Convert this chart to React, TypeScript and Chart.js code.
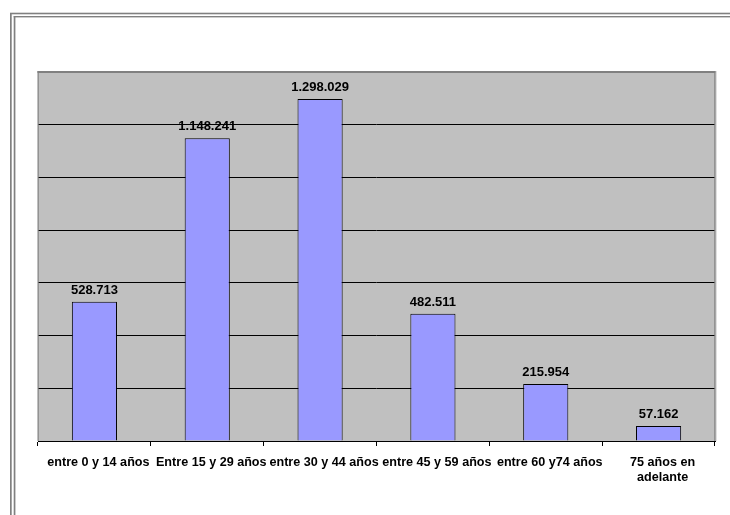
import React, { useEffect, useRef } from "react";
import { Chart, registerables } from "chart.js";

Chart.register(...registerables);

// Age groups (x-axis categories)
const categories: (string | string[])[] = [
  "entre 0 y 14 años",
  "Entre 15 y 29 años",
  "entre 30 y 44 años",
  "entre 45 y 59 años",
  "entre 60 y74 años",
  ["75 años en", "adelante"],
];

// Population per age group
const population: number[] = [528713, 1148241, 1298029, 482511, 215954, 57162];

// Value axis range
const yMax = 1400000;
const yStep = 200000;

const W = 730;
const H = 515;
const FONT = "'Liberation Sans', Arial, sans-serif";

const fmt = (n: number) => n.toString().replace(/\B(?=(\d{3})+(?!\d))/g, ".");

// Gray plot background, outer frame lines and plot border
const framePlugin = {
  id: "frame",
  beforeDraw(chart: any) {
    const { ctx, chartArea: a } = chart;
    ctx.save();
    ctx.fillStyle = "#ffffff";
    ctx.fillRect(0, 0, W, H);
    ctx.fillStyle = "#808080";
    // double frame: left and top
    ctx.fillRect(10, 13, 1.7, H - 13);
    ctx.fillRect(13.7, 16, 1.7, H - 16);
    ctx.fillRect(10, 12.7, W - 10, 1.6);
    ctx.fillRect(13.7, 16, W - 13.7, 1.4);
    // plot background
    ctx.fillStyle = "#c0c0c0";
    ctx.fillRect(a.left, a.top, a.right - a.left, a.bottom - a.top);
    ctx.restore();
  },
  beforeDatasetsDraw(chart: any) {
    const { ctx, chartArea: a } = chart;
    ctx.save();
    ctx.fillStyle = "#808080";
    ctx.fillRect(a.left - 0.5, a.top - 1, a.right - a.left + 1, 2);
    ctx.fillRect(a.left - 0.5, a.top - 1, 1.2, a.bottom - a.top + 1);
    ctx.fillRect(a.right - 0.7, a.top - 1, 1.5, a.bottom - a.top + 1);
    ctx.fillStyle = "#e0e0e0";
    ctx.fillRect(a.right + 0.8, a.top - 1, 1.2, a.bottom - a.top + 1);
    ctx.restore();
  },
};

// Value labels above each bar
const valueLabelPlugin = {
  id: "valueLabels",
  afterDatasetsDraw(chart: any) {
    const { ctx } = chart;
    const meta = chart.getDatasetMeta(0);
    ctx.save();
    ctx.font = `bold 13px ${FONT}`;
    ctx.fillStyle = "#000000";
    ctx.textAlign = "center";
    ctx.textBaseline = "alphabetic";
    meta.data.forEach((bar: any, i: number) => {
      ctx.fillText(fmt(population[i]), bar.x, bar.y - 8);
    });
    ctx.restore();
  },
};

export default function App() {
  const ref = useRef<HTMLCanvasElement | null>(null);

  useEffect(() => {
    if (!ref.current) return;
    const chart = new Chart(ref.current, {
      type: "bar",
      data: {
        labels: categories,
        datasets: [
          {
            data: population,
            backgroundColor: "#9999ff",
            borderColor: "#000000",
            borderWidth: 1,
            barPercentage: 0.4,
            categoryPercentage: 1,
          },
        ],
      },
      options: {
        responsive: false,
        animation: false,
        devicePixelRatio: 1,
        layout: { padding: { left: 38, right: 15, top: 72, bottom: 0 } },
        plugins: { legend: { display: false }, tooltip: { enabled: false } },
        scales: {
          x: {
            afterFit: (s: any) => {
              s.height = 74;
            },
            grid: {
              offset: true,
              drawOnChartArea: false,
              drawTicks: true,
              tickLength: 5,
              color: "#000000",
            },
            border: { display: true, color: "#000000", width: 1 },
            ticks: {
              color: "#000000",
              font: { family: FONT, size: 12.6, weight: "bold", lineHeight: 1.2 },
              padding: 9,
              labelOffset: 4,
              maxRotation: 0,
              autoSkip: false,
            },
          },
          y: {
            min: 0,
            max: yMax,
            afterFit: (s: any) => {
              s.width = 0;
            },
            ticks: { display: false, stepSize: yStep },
            border: { display: false },
            grid: {
              drawTicks: false,
              color: "#000000",
              lineWidth: 1,
            },
          },
        },
      },
      plugins: [framePlugin, valueLabelPlugin],
    });
    return () => chart.destroy();
  }, []);

  return (
    <div style={{ position: "absolute", left: 0, top: 0, width: W, height: H }}>
      <canvas ref={ref} width={W} height={H} style={{ display: "block" }} />
    </div>
  );
}
